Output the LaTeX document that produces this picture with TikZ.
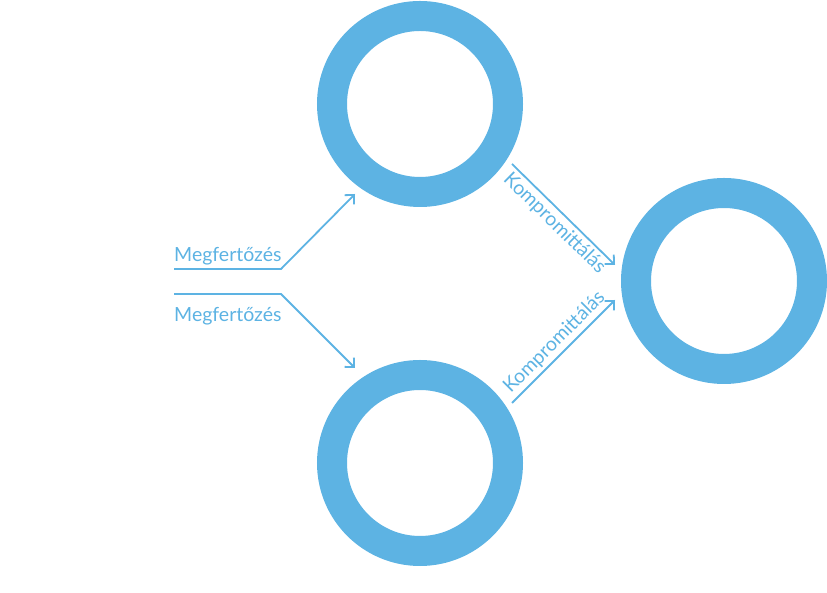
\documentclass[tikz,border=0pt]{standalone}
\usepackage{fontspec}
\setmainfont{Lato}
\usetikzlibrary{arrows.meta, positioning}
\definecolor{ringblue}{HTML}{5DB3E3}
\tikzset{
  >={Straight Barb[length=2.4mm, width=4.6mm, line width=1.8pt]},
  ring/.style={circle, draw=ringblue, line width=30pt, minimum size=176pt, inner sep=0pt},
  flow/.style={->, draw=ringblue, line width=1.8pt},
  lbl/.style={font=\fontsize{19.5}{22}\selectfont, text=ringblue, inner sep=3pt},
}
\begin{document}
\begin{tikzpicture}[x=1pt,y=1pt]
  \useasboundingbox (0,0) rectangle (827,593);
  \node[ring] (host1) at (420,489) {};
  \node[ring] (host2) at (420,130) {};
  \node[ring] (target) at (724,312) {};
  \coordinate (in1) at (174,324);
  \coordinate (in2) at (174,299);
  \coordinate (k1) at (512,429);
  \coordinate (k2) at (512,190);
  \coordinate (e1) at (355,399);
  \coordinate (e2) at (355,225);
  \coordinate (t1) at (615,328);
  \coordinate (t2) at (615,293);
  \draw[flow] (in1) -- ++(107,0) -- (e1);
  \draw[flow] (in2) -- ++(107,0) -- (e2);
  \node[lbl, anchor=base west, inner sep=0pt] (inf1) at (174,331) {Megfertőzés};
  \node[lbl, anchor=base west, inner sep=0pt] (inf2) at (174,271) {Megfertőzés};
  \draw[flow] (k1) -- node[lbl, midway, sloped, below] (komp1) {Kompromittálás} (t1);
  \draw[flow] (k2) -- node[lbl, midway, sloped, above] (komp2) {Kompromittálás} (t2);
\end{tikzpicture}
\end{document}
